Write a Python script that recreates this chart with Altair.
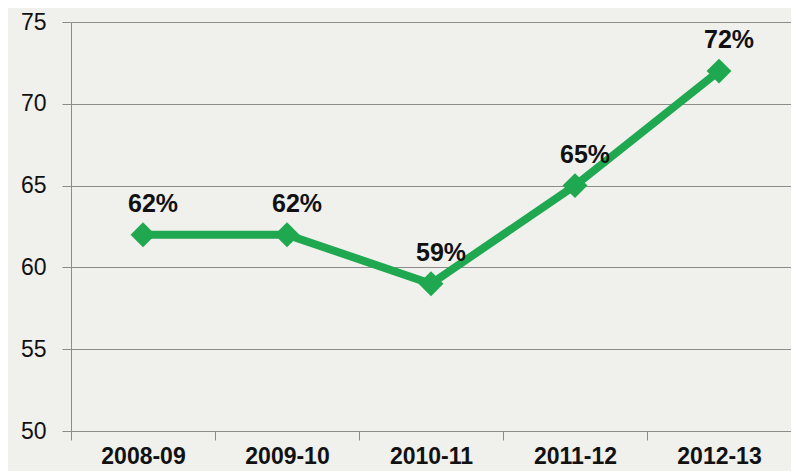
import altair as alt
import pandas as pd

years = ["2008-09", "2009-10", "2010-11", "2011-12", "2012-13"]
values = [62, 62, 59, 65, 72]
labels = ["62%", "62%", "59%", "65%", "72%"]

df = pd.DataFrame({"year": years, "value": values, "label": labels})

FONT = "Liberation Sans"
GRID = "#8c8c8c"
GREEN = "#1fa84f"

x = alt.X("year:N", sort=years, title=None,
          scale=alt.Scale(paddingInner=0, paddingOuter=0),
          axis=alt.Axis(labelAngle=0, labelFont=FONT, labelFontSize=23,
                        labelFontWeight="bold", labelColor="#111111",
                        labelPadding=5, tickBand="extent", tickSize=9,
                        tickColor=GRID, domainColor=GRID, grid=False))
y = alt.Y("value:Q", title=None,
          scale=alt.Scale(domain=[50, 75], nice=False, zero=False),
          axis=alt.Axis(values=[50, 55, 60, 65, 70, 75], labelFont=FONT,
                        labelFontSize=23, labelColor="#111111",
                        labelPadding=16, tickSize=9, tickColor=GRID,
                        domainColor=GRID, gridColor=GRID, grid=True))

base = alt.Chart(df).encode(x=x, y=y)

line = base.mark_line(color=GREEN, strokeWidth=8)
pts = base.mark_point(shape="diamond", size=620, filled=True, color=GREEN, opacity=1)
txt = base.mark_text(font=FONT, fontSize=25, fontWeight="bold", color="#111111",
                     dx=10, dy=-31, baseline="middle").encode(text="label:N")

chart = (line + pts + txt).properties(
    width=720, height=409,
    autosize=alt.AutoSizeParams(type="none"),
    padding={"left": 63, "top": 14, "right": 0, "bottom": 40},
    background="#f0f0ec",
).configure_view(stroke=None)

chart.save("out.html", embed_options={"renderer": "svg", "actions": False})
